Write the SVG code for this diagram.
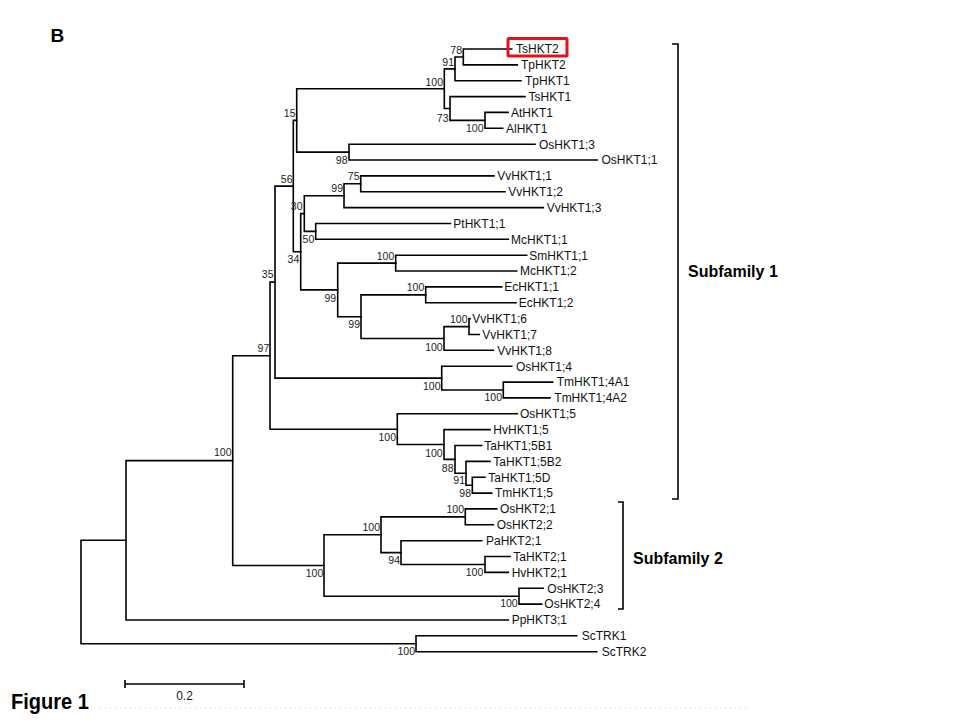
<svg xmlns="http://www.w3.org/2000/svg" width="960" height="720" viewBox="0 0 960 720">
<style>
.e{fill:none;stroke:#000;stroke-width:1.6;stroke-linecap:square}
.lf{font-family:"Liberation Sans",Arial,sans-serif;font-size:12px;fill:#111}
.bs{font-family:"Liberation Sans",Arial,sans-serif;font-size:10.5px;fill:#222;text-anchor:end}
.hd{font-family:"Liberation Sans",Arial,sans-serif;font-weight:bold;fill:#000}
.br{fill:none;stroke:#000;stroke-width:1.6}
</style>
<rect width="960" height="720" fill="#fff"/>
<text class="hd" x="50.5" y="42" font-size="19">B</text>

<g id="connectors">
<path class="e" d="M511.7,49 H463.3 V64.9 H517.3"/>
<path class="e" d="M463.3,57 H455 V80.7 H521"/>
<path class="e" d="M508,112.4 H485 V128.3 H502.7"/>
<path class="e" d="M525,96.6 H450 V120.4 H485"/>
<path class="e" d="M455,68.9 H444.3 V108.5 H450"/>
<path class="e" d="M535,144.2 H349 V160 H597.3"/>
<path class="e" d="M444.3,88.7 H296.7 V152.1 H349"/>
<path class="e" d="M494,175.9 H360.7 V191.7 H505"/>
<path class="e" d="M360.7,183.8 H344 V207.6 H543.3"/>
<path class="e" d="M450.5,223.5 H315.7 V239.3 H508.3"/>
<path class="e" d="M344,195.7 H304.3 V231.4 H315.7"/>
<path class="e" d="M526.7,255.2 H395.7 V271 H516.7"/>
<path class="e" d="M501.7,286.9 H425.7 V302.8 H516"/>
<path class="e" d="M470,318.6 H469 V334.5 H479.3"/>
<path class="e" d="M469,326.6 H444 V350.3 H493.3"/>
<path class="e" d="M425.7,294.9 H361 V338.5 H444"/>
<path class="e" d="M395.7,263.1 H337.7 V316.7 H361"/>
<path class="e" d="M304.3,213.6 H300.7 V289.9 H337.7"/>
<path class="e" d="M296.7,120.4 H293.3 V251.8 H300.7"/>
<path class="e" d="M552.7,382.1 H503.3 V397.9 H550"/>
<path class="e" d="M511.7,366.2 H441.7 V390 H503.3"/>
<path class="e" d="M293.3,186.1 H275 V378.1 H441.7"/>
<path class="e" d="M485,477.2 H472.3 V493.1 H491.7"/>
<path class="e" d="M490,461.4 H466 V485.2 H472.3"/>
<path class="e" d="M481.7,445.5 H455 V473.3 H466"/>
<path class="e" d="M490,429.6 H444 V459.4 H455"/>
<path class="e" d="M517.3,413.8 H397.3 V444.5 H444"/>
<path class="e" d="M275,282.1 H270 V429.2 H397.3"/>
<path class="e" d="M496.7,508.9 H465.3 V524.8 H493.3"/>
<path class="e" d="M510,556.5 H485 V572.4 H508.3"/>
<path class="e" d="M481.7,540.7 H401 V564.5 H485"/>
<path class="e" d="M465.3,516.9 H381 V552.6 H401"/>
<path class="e" d="M543.3,588.2 H519 V604.1 H541.7"/>
<path class="e" d="M381,534.8 H324 V596.2 H519"/>
<path class="e" d="M270,355.7 H232.7 V565.5 H324"/>
<path class="e" d="M232.7,460.6 H126 V620 H508.3"/>
<path class="e" d="M576.7,635.8 H416 V651.7 H596.7"/>
<path class="e" d="M126,540.3 H81 V643.8 H416"/>
</g>

<g id="leaves">
<g id="TsHKT2"><text class="lf" x="516" y="53.3">TsHKT2</text><rect x="508" y="38.5" width="59" height="17.5" rx="1" fill="none" stroke="#e3121b" stroke-width="3"/></g>
<g id="TpHKT2"><text class="lf" x="521" y="69.2">TpHKT2</text></g>
<g id="TpHKT1"><text class="lf" x="525" y="85">TpHKT1</text></g>
<g id="TsHKT1"><text class="lf" x="528.5" y="100.9">TsHKT1</text></g>
<g id="AtHKT1"><text class="lf" x="511" y="116.7">AtHKT1</text></g>
<g id="AlHKT1"><text class="lf" x="506" y="132.6">AlHKT1</text></g>
<g id="OsHKT1_3"><text class="lf" x="539" y="148.5">OsHKT1;3</text></g>
<g id="OsHKT1_1"><text class="lf" x="601.5" y="164.3">OsHKT1;1</text></g>
<g id="VvHKT1_1"><text class="lf" x="497.3" y="180.2">VvHKT1;1</text></g>
<g id="VvHKT1_2"><text class="lf" x="508.3" y="196">VvHKT1;2</text></g>
<g id="VvHKT1_3"><text class="lf" x="546.7" y="211.9">VvHKT1;3</text></g>
<g id="PtHKT1_1"><text class="lf" x="453.3" y="227.8">PtHKT1;1</text></g>
<g id="McHKT1_1"><text class="lf" x="511" y="243.6">McHKT1;1</text></g>
<g id="SmHKT1_1"><text class="lf" x="529.3" y="259.5">SmHKT1;1</text></g>
<g id="McHKT1_2"><text class="lf" x="520" y="275.3">McHKT1;2</text></g>
<g id="EcHKT1_1"><text class="lf" x="504.3" y="291.2">EcHKT1;1</text></g>
<g id="EcHKT1_2"><text class="lf" x="518.7" y="307.1">EcHKT1;2</text></g>
<g id="VvHKT1_6"><text class="lf" x="472.3" y="322.9">VvHKT1;6</text></g>
<g id="VvHKT1_7"><text class="lf" x="482.3" y="338.8">VvHKT1;7</text></g>
<g id="VvHKT1_8"><text class="lf" x="497.3" y="354.6">VvHKT1;8</text></g>
<g id="OsHKT1_4"><text class="lf" x="516" y="370.5">OsHKT1;4</text></g>
<g id="TmHKT1_4A1"><text class="lf" x="556.7" y="386.4">TmHKT1;4A1</text></g>
<g id="TmHKT1_4A2"><text class="lf" x="554.3" y="402.2">TmHKT1;4A2</text></g>
<g id="OsHKT1_5"><text class="lf" x="520" y="418.1">OsHKT1;5</text></g>
<g id="HvHKT1_5"><text class="lf" x="493.3" y="433.9">HvHKT1;5</text></g>
<g id="TaHKT1_5B1"><text class="lf" x="484.3" y="449.8">TaHKT1;5B1</text></g>
<g id="TaHKT1_5B2"><text class="lf" x="493.3" y="465.7">TaHKT1;5B2</text></g>
<g id="TaHKT1_5D"><text class="lf" x="488.3" y="481.5">TaHKT1;5D</text></g>
<g id="TmHKT1_5"><text class="lf" x="495" y="497.4">TmHKT1;5</text></g>
<g id="OsHKT2_1"><text class="lf" x="500" y="513.2">OsHKT2;1</text></g>
<g id="OsHKT2_2"><text class="lf" x="496.7" y="529.1">OsHKT2;2</text></g>
<g id="PaHKT2_1"><text class="lf" x="486" y="545">PaHKT2;1</text></g>
<g id="TaHKT2_1"><text class="lf" x="513.3" y="560.8">TaHKT2;1</text></g>
<g id="HvHKT2_1"><text class="lf" x="511.7" y="576.7">HvHKT2;1</text></g>
<g id="OsHKT2_3"><text class="lf" x="547.3" y="592.5">OsHKT2;3</text></g>
<g id="OsHKT2_4"><text class="lf" x="544.3" y="608.4">OsHKT2;4</text></g>
<g id="PpHKT3_1"><text class="lf" x="511.7" y="624.3">PpHKT3;1</text></g>
<g id="ScTRK1"><text class="lf" x="581.7" y="640.1">ScTRK1</text></g>
<g id="ScTRK2"><text class="lf" x="601.7" y="656">ScTRK2</text></g>
</g>

<g id="bootstrap">
<g id="n78"><text class="bs" x="462" y="53.5">78</text></g>
<g id="n91a"><text class="bs" x="454" y="66">91</text></g>
<g id="n100a"><text class="bs" x="443" y="85.7">100</text></g>
<g id="n73"><text class="bs" x="448.5" y="121.7">73</text></g>
<g id="n100b"><text class="bs" x="483.5" y="132.3">100</text></g>
<g id="n15"><text class="bs" x="295.5" y="117.3">15</text></g>
<g id="n98a"><text class="bs" x="347.5" y="164">98</text></g>
<g id="n56"><text class="bs" x="292.5" y="182.7">56</text></g>
<g id="n75"><text class="bs" x="359.5" y="180">75</text></g>
<g id="n99a"><text class="bs" x="343" y="192.3">99</text></g>
<g id="n30"><text class="bs" x="302.5" y="210">30</text></g>
<g id="n50"><text class="bs" x="314.3" y="243.3">50</text></g>
<g id="n34"><text class="bs" x="299.3" y="263.3">34</text></g>
<g id="n35"><text class="bs" x="273.5" y="278.3">35</text></g>
<g id="n100c"><text class="bs" x="394.3" y="260">100</text></g>
<g id="n100d"><text class="bs" x="424.3" y="291">100</text></g>
<g id="n99b"><text class="bs" x="336.2" y="301.7">99</text></g>
<g id="n99c"><text class="bs" x="360" y="328.3">99</text></g>
<g id="n100e"><text class="bs" x="467.5" y="322.7">100</text></g>
<g id="n100f"><text class="bs" x="442.7" y="350.7">100</text></g>
<g id="n97"><text class="bs" x="269.3" y="351.7">97</text></g>
<g id="n100g"><text class="bs" x="440.5" y="390">100</text></g>
<g id="n100h"><text class="bs" x="502" y="400.7">100</text></g>
<g id="n100i"><text class="bs" x="396" y="440.7">100</text></g>
<g id="n100j"><text class="bs" x="442.7" y="456.7">100</text></g>
<g id="n88"><text class="bs" x="453.5" y="471.7">88</text></g>
<g id="n91b"><text class="bs" x="465" y="484.3">91</text></g>
<g id="n98b"><text class="bs" x="471" y="496.7">98</text></g>
<g id="n100k"><text class="bs" x="231.5" y="456">100</text></g>
<g id="n100l"><text class="bs" x="323.3" y="577.3">100</text></g>
<g id="n100m"><text class="bs" x="380" y="530.7">100</text></g>
<g id="n100n"><text class="bs" x="464" y="512.7">100</text></g>
<g id="n94"><text class="bs" x="400" y="564.3">94</text></g>
<g id="n100o"><text class="bs" x="483.3" y="576">100</text></g>
<g id="n100p"><text class="bs" x="517.7" y="607.3">100</text></g>
<g id="n100q"><text class="bs" x="415" y="655">100</text></g>
</g>

<g id="subfamily1">
<path class="br" d="M672,44 H678 V499 H672"/>
<text class="hd" x="688" y="276.5" font-size="16">Subfamily 1</text>
</g>
<g id="subfamily2">
<path class="br" d="M618,502 H623 V609 H618"/>
<text class="hd" x="633" y="563.5" font-size="16">Subfamily 2</text>
</g>

<g id="scalebar">
<path class="br" d="M125,684 H244 M125,680 V688 M244,680 V688"/>
<text x="184.5" y="699.5" font-family="Liberation Sans,Arial,sans-serif" font-size="12" fill="#222" text-anchor="middle">0.2</text>
</g>

<text class="hd" x="11" y="709" font-size="22" textLength="78" lengthAdjust="spacingAndGlyphs">Figure 1</text>
<line x1="100" y1="708" x2="750" y2="708" stroke="#c8c8c8" stroke-width="1" stroke-dasharray="1 4"/>
</svg>
